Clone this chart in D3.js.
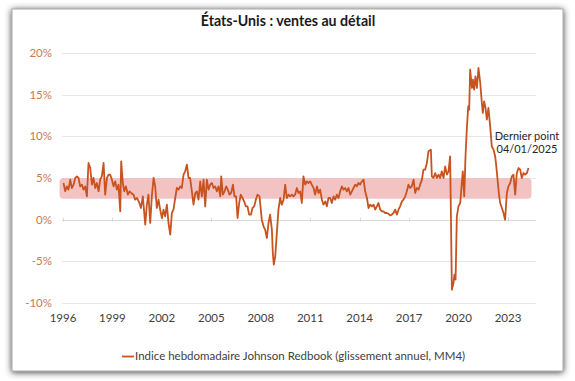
<!DOCTYPE html>
<html><head><meta charset="utf-8">
<script src="https://cdn.jsdelivr.net/npm/d3@7"></script>
<style>body{margin:0;background:#fff}svg{display:block}text{font-family:Lato,"Open Sans",sans-serif}</style>
</head><body><script>
// Weekly Johnson Redbook index, YoY, 4-week MA, decimal years
const dates = [
1996.00,1996.11,1996.21,1996.31,1996.42,1996.52,1996.63,1996.73,1996.83,1996.94,
1997.04,1997.15,1997.25,1997.35,1997.46,1997.56,1997.67,1997.77,1997.87,1997.98,
1998.08,1998.19,1998.29,1998.39,1998.50,1998.60,1998.71,1998.81,1998.91,1999.02,
1999.12,1999.23,1999.33,1999.43,1999.54,1999.60,1999.70,1999.79,1999.89,2000.02,
2000.12,2000.22,2000.37,2000.47,2000.58,2000.70,2000.83,2000.95,2001.10,2001.20,
2001.30,2001.41,2001.51,2001.62,2001.72,2001.82,2001.93,2002.03,2002.14,2002.24,
2002.34,2002.45,2002.55,2002.66,2002.76,2002.86,2002.97,2003.07,2003.18,2003.28,
2003.38,2003.49,2003.59,2003.70,2003.80,2003.90,2004.01,2004.11,2004.22,2004.32,
2004.42,2004.53,2004.63,2004.74,2004.84,2004.94,2005.05,2005.15,2005.26,2005.36,
2005.46,2005.57,2005.67,2005.78,2005.84,2005.94,2006.05,2006.15,2006.25,2006.36,
2006.46,2006.57,2006.67,2006.77,2006.86,2006.96,2007.06,2007.17,2007.27,2007.38,
2007.48,2007.58,2007.69,2007.79,2007.90,2008.00,2008.10,2008.23,
2008.37,2008.48,2008.58,2008.69,2008.79,2008.89,2009.00,2009.06,2009.12,2009.21,
2009.31,2009.41,2009.52,2009.62,2009.73,2009.83,2009.93,2010.04,2010.14,2010.25,
2010.35,2010.45,2010.56,2010.66,2010.77,2010.87,2010.97,2011.08,2011.18,2011.29,
2011.39,2011.49,2011.60,2011.70,2011.81,2011.91,2012.01,2012.12,2012.22,2012.33,
2012.43,2012.53,2012.64,2012.74,2012.85,2012.95,2013.05,2013.16,2013.26,2013.37,
2013.47,2013.57,2013.68,2013.78,2013.89,2013.99,2014.09,2014.20,2014.30,2014.40,
2014.51,2014.61,2014.72,2014.82,2014.93,2015.03,2015.13,2015.24,2015.34,2015.45,
2015.55,2015.65,2015.76,2015.86,2015.96,2016.07,2016.17,2016.28,2016.38,2016.48,
2016.59,2016.69,2016.80,2016.90,2017.00,2017.11,2017.21,2017.32,2017.42,2017.52,
2017.63,2017.73,2017.84,2017.94,2018.04,2018.15,2018.25,2018.36,2018.46,2018.56,
2018.67,2018.77,
2018.92,2018.98,2019.08,2019.19,2019.29,2019.40,2019.50,2019.60,2019.71,2019.81,
2019.92,2020.02,2020.12,2020.16,2020.23,2020.33,2020.39,2020.46,2020.54,2020.64,
2020.75,2020.85,2020.91,2021.00,2021.08,2021.16,2021.25,2021.31,2021.37,2021.48,
2021.54,2021.62,2021.70,2021.79,2021.89,2022.00,2022.10,2022.16,2022.24,2022.33,
2022.41,2022.51,2022.62,2022.72,2022.83,2022.93,2022.99,2023.08,2023.16,2023.24,
2023.35,2023.45,2023.55,2023.66,2023.76,2023.87,2023.97,2024.07,2024.18,2024.28,
2024.39,2024.49,2024.59,2024.70,2024.80,2024.91,2025.01
];
const values = [
4.4,3.4,4.0,3.6,4.8,3.8,4.2,5.0,5.2,5.0,
4.0,4.2,3.6,4.0,2.8,6.8,6.2,4.2,5.0,3.8,
4.4,3.4,4.8,5.2,6.8,3.0,5.0,5.4,5.4,4.8,
4.0,4.6,3.6,4.2,1.0,7.0,4.4,3.4,4.0,3.0,
3.4,3.2,3.0,2.4,2.6,2.2,1.4,2.8,-0.6,1.8,
3.0,-0.4,2.8,5.0,4.0,1.4,2.4,1.2,0.2,1.2,
0.4,1.8,-0.4,-1.8,0.8,1.2,2.6,3.8,3.6,4.0,
3.8,5.4,5.8,6.6,5.0,5.0,3.4,1.8,3.2,3.4,
2.4,4.6,2.8,4.8,1.6,4.8,3.6,4.2,4.4,3.8,
4.0,3.4,4.0,2.8,5.2,3.0,3.4,4.0,3.6,3.0,
3.2,4.2,2.8,2.8,0.2,2.0,3.0,2.6,2.2,1.6,
1.6,0.6,0.6,1.4,1.6,2.4,3.0,2.8,
0.0,-0.8,-1.2,-2.2,-0.4,0.6,-1.2,-4.0,-5.4,-4.4,
-1.6,1.2,2.6,1.8,2.4,4.2,2.6,3.0,2.8,3.0,
2.8,3.0,3.8,3.2,3.4,2.0,5.2,4.2,4.6,4.4,
4.6,4.2,3.8,3.0,4.0,3.2,3.6,2.4,1.8,2.2,
1.6,2.6,2.6,2.0,2.8,2.4,3.0,2.6,3.4,4.0,
3.6,3.8,3.4,3.8,3.0,3.4,3.8,4.2,4.0,4.4,
4.2,4.6,4.8,3.4,2.6,1.4,1.8,1.6,1.8,1.2,
1.6,2.0,1.2,1.0,1.0,0.8,0.8,0.7,0.5,0.6,
0.8,1.2,0.6,1.2,1.6,2.2,2.4,2.8,3.4,4.2,
3.8,4.0,4.8,3.2,3.8,3.6,4.2,4.8,6.0,6.0,
6.8,8.2,
8.4,5.2,5.0,5.6,5.0,5.4,5.0,5.8,5.0,6.4,
5.4,5.8,7.6,2.0,-8.4,-7.6,-6.6,-7.2,0.4,1.6,
2.0,4.4,5.8,2.8,7.6,10.8,13.6,13.2,18.0,15.8,
16.8,15.6,17.2,15.8,18.2,16.4,14.0,12.8,14.2,13.4,
12.0,13.4,11.2,8.8,8.4,7.6,6.6,4.8,3.2,2.0,
1.4,0.8,0.0,3.2,4.0,4.4,5.2,5.4,3.0,5.6,
6.2,6.0,5.0,5.6,5.4,5.6,6.2
];
const yTicks = [-10, -5, 0, 5, 10, 15, 20];
const xTickLabels = ["1996","1999","2002","2005","2008","2011","2014","2017","2020","2023"];
const bandRange = [2.5, 5.0];
const title = "États-Unis : ventes au détail";
const seriesName = "Indice hebdomadaire Johnson Redbook (glissement annuel, MM4)";
const annotation = ["Dernier point", "04/01/2025"];

const W = 575, H = 381;
const lineColor = "#c8531f";
const svg = d3.select("body").append("svg").attr("width", W).attr("height", H);

const defs = svg.append("defs");
const f = defs.append("filter").attr("id","sh").attr("x","-10%").attr("y","-10%").attr("width","120%").attr("height","120%");
f.append("feDropShadow").attr("dx",0).attr("dy",1).attr("stdDeviation",3.2).attr("flood-color","#333").attr("flood-opacity",0.95);

svg.append("rect").attr("x",12).attr("y",9).attr("width",551).attr("height",362)
  .attr("fill","#fff").attr("stroke","#a8a8a8").attr("stroke-width",1).attr("filter","url(#sh)");

const x = d3.scaleLinear().domain([d3.min(dates), d3.max(dates)]).range([63.5, 528.5]);
const y = d3.scaleLinear().domain([-10, 20]).range([303, 53]);
const xLab = d3.scalePoint().domain(xTickLabels).range([63, 508]);

// gridlines
svg.append("g").selectAll("line").data(yTicks).join("line")
  .attr("x1", 62).attr("x2", 536)
  .attr("y1", d => Math.round(y(d)) + 0.5).attr("y2", d => Math.round(y(d)) + 0.5)
  .attr("stroke", d => d === 0 ? "#d9d9d9" : "#e6e6e6").attr("stroke-width", 1);

// y labels
svg.append("g").selectAll("text").data(yTicks).join("text")
  .attr("x", 52).attr("y", d => y(d)).attr("dy", "0.35em")
  .attr("text-anchor", "end").attr("font-size", 11.5).attr("fill", "#c97a52")
  .text(d => d + "%");

// band
const bx0 = x(dates[0]) - 4, bx1 = x(dates[dates.length - 1]) + 3;
svg.append("rect").attr("x", bx0).attr("width", bx1 - bx0)
  .attr("y", y(bandRange[1])).attr("height", y(bandRange[0]) - y(bandRange[1]))
  .attr("rx", 4).attr("fill", "#f3c3c3");

// x axis ticks at zero line + labels
svg.append("g").selectAll("line").data(xTickLabels).join("line")
  .attr("x1", d => Math.round(xLab(d)) + 0.5).attr("x2", d => Math.round(xLab(d)) + 0.5)
  .attr("y1", y(0) - 2).attr("y2", y(0) + 2).attr("stroke", "#d9d9d9");
svg.append("g").selectAll("text").data(xTickLabels).join("text")
  .attr("x", d => xLab(d)).attr("y", 322).attr("text-anchor", "middle")
  .attr("font-size", 11.5).attr("fill", "#404040").text(d => d);

// line
const pts = dates.map((d, i) => [d, values[i]]);
svg.append("path").datum(pts)
  .attr("d", d3.line().x(d => x(d[0])).y(d => y(d[1])))
  .attr("fill", "none").attr("stroke", lineColor).attr("stroke-width", 1.8)
  .attr("stroke-linejoin", "round");

// title
svg.append("text").attr("x", 288).attr("y", 26).attr("text-anchor", "middle")
  .attr("font-size", 14.2).attr("font-weight", "bold").attr("fill", "#1a1a1a").text(title);

// annotation
svg.append("g").selectAll("text").data(annotation).join("text")
  .attr("x", 527).attr("y", (d, i) => 140 + i * 13).attr("text-anchor", "middle")
  .attr("font-size", 11).attr("fill", "#262626").text(d => d);

// legend
svg.append("line").attr("x1", 122).attr("x2", 134).attr("y1", 356.5).attr("y2", 356.5)
  .attr("stroke", lineColor).attr("stroke-width", 1.8);
svg.append("text").attr("x", 135).attr("y", 360).attr("font-size", 11.5)
  .attr("fill", "#404040").text(seriesName);
</script></body></html>
